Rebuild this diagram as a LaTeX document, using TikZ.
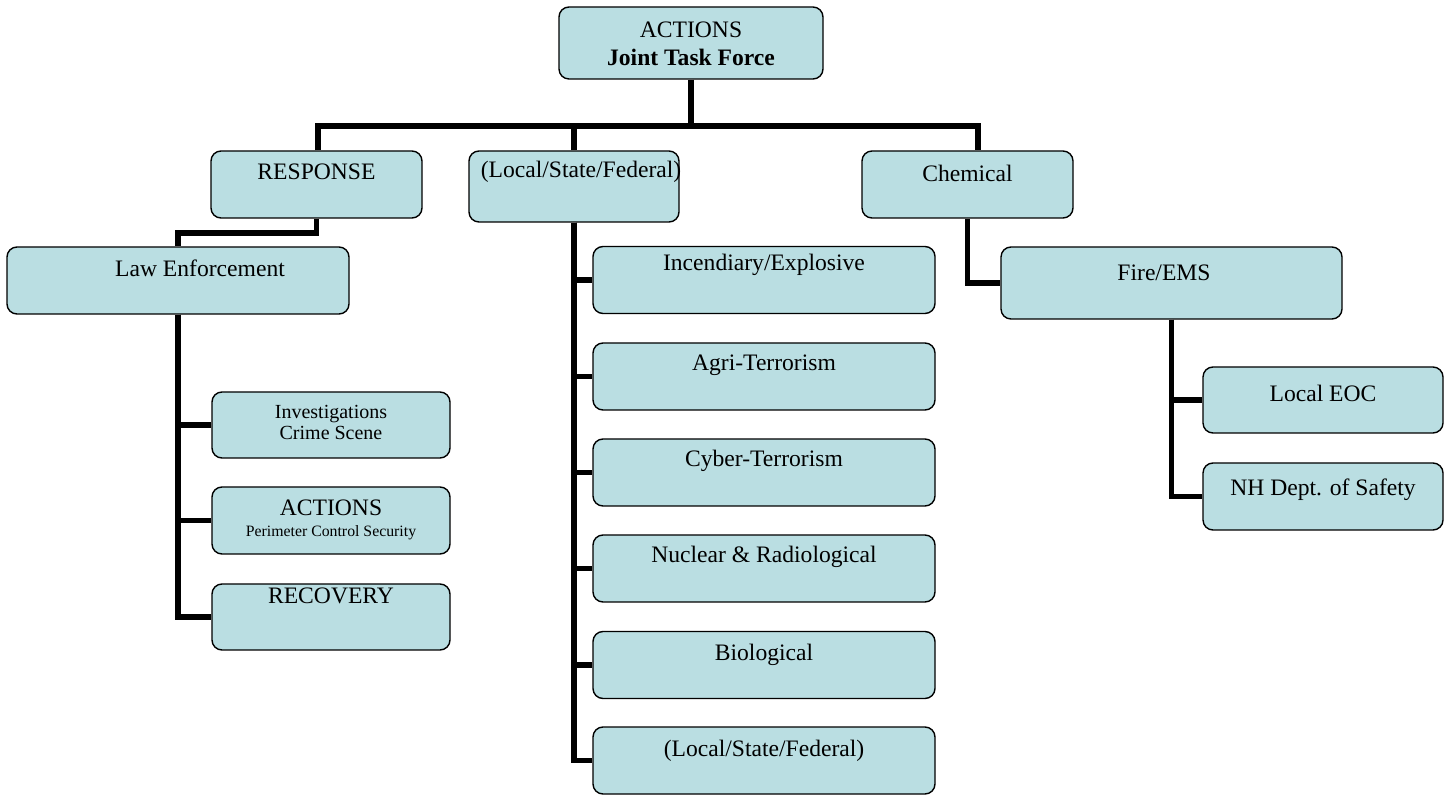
\documentclass[tikz,border=0pt]{standalone}
\usepackage{fontspec}
\setmainfont{Liberation Serif}
\usetikzlibrary{backgrounds}
\definecolor{boxfill}{RGB}{186,222,226}
\begin{document}
\begin{tikzpicture}[x=0.5pt,y=-0.5pt,
  box/.style={draw=black,line width=0.7pt,rounded corners=5pt,fill=boxfill,inner sep=0pt},
  txt/.style={inner sep=0pt,font=\fontsize{11.8}{14}\selectfont,align=center},
  conn/.style={line width=2.6pt,line join=miter}]
\useasboundingbox (0,0) rectangle (1450,795);
% boxes
\node[box,minimum width=132pt,minimum height=36pt] (top) at (691,43) {};
\node[box,minimum width=105.5pt,minimum height=33.5pt] (resp) at (316.5,184.5) {};
\node[box,minimum width=105pt,minimum height=35.5pt] (lsf) at (574,186.5) {};
\node[box,minimum width=105.5pt,minimum height=33.5pt] (chem) at (967.5,184.5) {};
\node[box,minimum width=171pt,minimum height=33.5pt] (law) at (178,280.5) {};
\node[box,minimum width=170.5pt,minimum height=36pt] (fire) at (1171.5,283) {};
\node[box,minimum width=119pt,minimum height=33pt] (inv) at (331,425) {};
\node[box,minimum width=119pt,minimum height=33.5pt] (act) at (331,520.5) {};
\node[box,minimum width=119pt,minimum height=33pt] (rec) at (331,617) {};
\node[box,minimum width=171pt,minimum height=33.5pt] (c1) at (764,280) {};
\node[box,minimum width=171pt,minimum height=33.5pt] (c2) at (764,376.5) {};
\node[box,minimum width=171pt,minimum height=33.5pt] (c3) at (764,472.5) {};
\node[box,minimum width=171pt,minimum height=33.5pt] (c4) at (764,568.5) {};
\node[box,minimum width=171pt,minimum height=33.5pt] (c5) at (764,665) {};
\node[box,minimum width=171pt,minimum height=33.5pt] (c6) at (764,760.5) {};
\node[box,minimum width=120pt,minimum height=33pt] (leoc) at (1323,400) {};
\node[box,minimum width=120pt,minimum height=33.5pt] (nh) at (1323,496.5) {};
% texts
\node[txt] (ttop) at (691,44) {ACTIONS\\\textbf{Joint Task Force}};
\node[txt] (tresp) at (316.5,172) {RESPONSE};
\node[txt] (tlsf) at (581,172) {(Local/State/Federal)};
\node[txt] (tchem) at (967.5,173) {Chemical};
\node[txt] (tlaw) at (200,268) {Law Enforcement};
\node[txt] (tfire) at (1164,273) {Fire/EMS};
\node[txt,font=\fontsize{10}{10.5}\selectfont] (tinv) at (331,422.5) {Investigations\\Crime Scene};
\node[txt] (tact1) at (331,508) {ACTIONS};
\node[txt,font=\fontsize{7.9}{9}\selectfont] (tact2) at (331,533) {Perimeter Control Security};
\node[txt] (trec) at (331,596) {RECOVERY};
\node[txt] (tc1) at (764,265) {Incendiary/Explosive};
\node[txt] (tc2) at (764,365) {Agri-Terrorism};
\node[txt] (tc3) at (764,461) {Cyber-Terrorism};
\node[txt] (tc4) at (764,557) {Nuclear \& Radiological};
\node[txt] (tc5) at (764,655) {Biological};
\node[txt] (tc6) at (764,751) {(Local/State/Federal)};
\node[txt] (tleoc) at (1323,393) {Local EOC};
\node[txt] (tnh) at (1323,490) {NH Dept. of Safety};
% connectors
\coordinate (barL) at (318,126);
\coordinate (barR) at (978,126);
\coordinate (rl) at (0,233);
\begin{scope}[on background layer]
\draw[conn] (top.south) -- (top.south |- barL);
\draw[conn] (barL |- resp.north) -- (barL) -- (barR) -- (barR |- chem.north);
\draw[conn] (lsf.north) -- (lsf.north |- barL);
\draw[conn] (resp.south) -- (resp.south |- rl) -- (law.north |- rl) -- (law.north);
\draw[conn] (law.south) |- (inv.west);
\draw[conn] (law.south) |- (act.west);
\draw[conn] (law.south) |- (rec.west);
\draw[conn] (lsf.south) |- (c1.west);
\draw[conn] (lsf.south) |- (c2.west);
\draw[conn] (lsf.south) |- (c3.west);
\draw[conn] (lsf.south) |- (c4.west);
\draw[conn] (lsf.south) |- (c5.west);
\draw[conn] (lsf.south) |- (c6.west);
\draw[conn] (chem.south) |- (fire.west);
\draw[conn] (fire.south) |- (leoc.west);
\draw[conn] (fire.south) |- (nh.west);
\end{scope}
\end{tikzpicture}
\end{document}
